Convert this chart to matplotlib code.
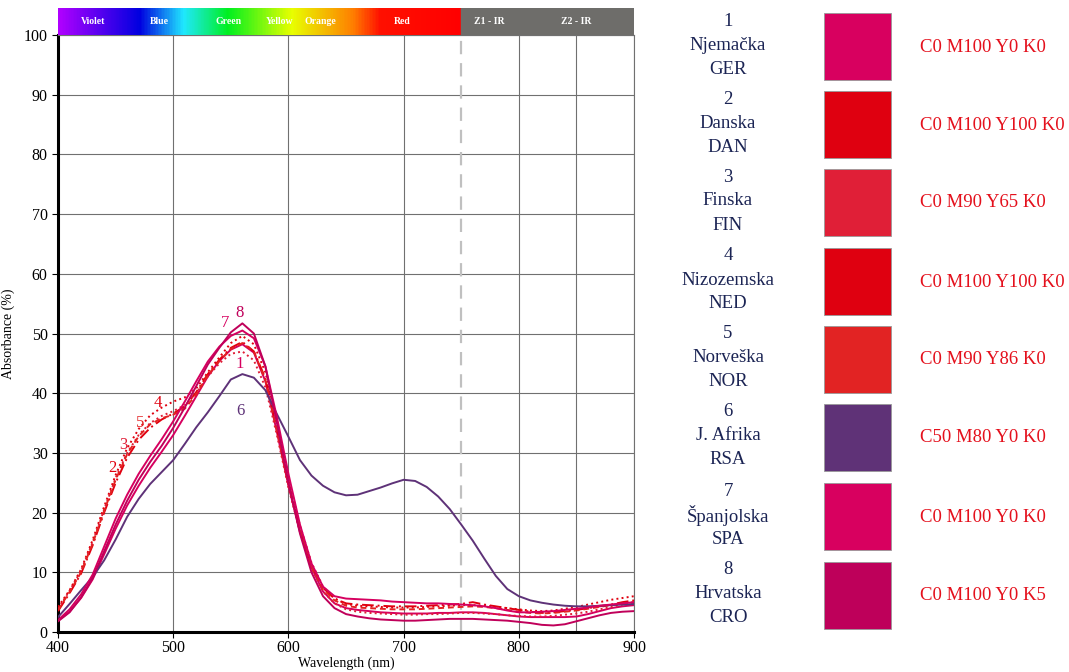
import numpy as np
import matplotlib
matplotlib.use('Agg')
import matplotlib.pyplot as plt
from matplotlib.colors import LinearSegmentedColormap
from matplotlib.patches import Rectangle

plt.rcParams['font.family'] = ['Liberation Serif', 'DejaVu Serif']

# wavelength grid (nm)
wl = list(range(400, 901, 10))

ger = [1.9, 3.4, 5.7, 8.8, 13.0, 17.3, 21.2, 24.5, 27.5, 30.2, 33.0, 36.2, 39.5, 42.8, 45.4, 47.3, 48.2,
       46.8, 42.0, 33.5, 24.5, 16.8, 10.8, 6.8, 4.8, 4.0, 3.7, 3.5, 3.3, 3.2, 3.1, 3.1, 3.1, 3.2, 3.2,
       3.3, 3.3, 3.2, 3.0, 2.8, 2.6, 2.5, 2.5, 2.5, 2.5, 2.6, 3.0, 3.5, 4.0, 4.3, 4.5]
dan = [3.5, 6.5, 9.8, 14.5, 20.0, 25.0, 29.2, 32.2, 34.2, 35.6, 36.6, 37.8, 40.2, 43.2, 45.6, 47.6, 48.6,
       47.0, 42.5, 34.0, 25.0, 17.2, 11.2, 7.4, 5.6, 4.8, 4.6, 4.5, 4.4, 4.3, 4.3, 4.3, 4.4, 4.5, 4.6,
       4.7, 5.0, 4.6, 4.3, 4.0, 3.7, 3.4, 3.2, 3.3, 3.5, 3.7, 4.0, 4.3, 4.6, 5.0, 5.3]
fin = [3.9, 6.9, 10.3, 15.0, 20.5, 25.8, 30.0, 33.0, 35.0, 36.2, 37.0, 38.0, 40.0, 42.8, 45.0, 46.6, 47.0,
       45.5, 41.0, 33.0, 24.2, 16.8, 10.8, 6.8, 4.8, 3.8, 3.4, 3.2, 3.1, 3.0, 2.9, 2.9, 3.0, 3.0, 3.1,
       3.2, 3.2, 3.1, 3.0, 2.8, 2.7, 2.6, 2.6, 2.7, 2.9, 3.1, 3.4, 3.8, 4.2, 4.6, 5.0]
ned = [4.2, 7.0, 10.5, 15.4, 21.0, 26.3, 30.8, 34.0, 36.3, 37.6, 38.6, 39.3, 40.8, 43.5, 46.0, 48.4, 49.6,
       48.2, 43.5, 35.0, 25.8, 17.8, 11.6, 7.6, 5.6, 4.7, 4.4, 4.3, 4.2, 4.1, 4.1, 4.1, 4.2, 4.3, 4.4,
       4.5, 4.5, 4.4, 4.2, 4.0, 3.8, 3.6, 3.5, 3.6, 3.9, 4.2, 4.6, 5.0, 5.4, 5.7, 6.0]
nor = [3.7, 6.7, 10.0, 14.8, 20.3, 25.5, 29.8, 32.8, 34.8, 35.8, 36.4, 37.4, 39.8, 43.0, 45.4, 47.4, 48.4,
       47.0, 42.2, 33.8, 24.8, 17.0, 11.0, 7.2, 5.3, 4.4, 4.1, 4.0, 3.9, 3.8, 3.8, 3.8, 3.9, 4.0, 4.1,
       4.2, 4.3, 4.2, 4.0, 3.7, 3.4, 3.2, 3.1, 3.2, 3.4, 3.6, 3.9, 4.2, 4.5, 4.8, 5.0]
rsa = [2.5, 4.7, 7.0, 9.2, 12.0, 15.5, 19.3, 22.3, 24.8, 26.8, 28.8, 31.5, 34.3, 36.8, 39.5, 42.3, 43.2,
       42.6, 40.5, 36.5, 32.7, 28.8, 26.2, 24.5, 23.4, 22.9, 23.0, 23.6, 24.2, 24.9, 25.5, 25.3, 24.3, 22.7, 20.6,
       18.0, 15.3, 12.3, 9.4, 7.2, 6.0, 5.3, 4.9, 4.6, 4.4, 4.3, 4.3, 4.4, 4.5, 4.6, 4.7]
spa = [2.0, 3.8, 6.3, 9.6, 14.3, 19.0, 23.0, 26.5, 29.5, 32.3, 35.3, 38.6, 42.0, 45.3, 47.8, 49.6, 50.5,
       49.2, 44.5, 36.0, 26.5, 18.0, 11.5, 7.6, 6.0, 5.6, 5.5, 5.4, 5.3, 5.1, 5.0, 4.9, 4.8, 4.8, 4.7,
       4.6, 4.5, 4.3, 4.0, 3.6, 3.3, 3.3, 3.4, 3.5, 3.7, 3.9, 4.1, 4.4, 4.6, 4.8, 5.0]
cro = [1.8, 3.3, 5.8, 9.0, 13.5, 18.0, 22.0, 25.5, 28.5, 31.2, 34.2, 37.6, 41.2, 44.8, 47.6, 50.2, 51.7,
       50.0, 44.5, 35.0, 25.0, 16.5, 10.0, 6.0, 4.0, 3.0, 2.6, 2.3, 2.1, 2.0, 1.9, 1.9, 2.0, 2.1, 2.2,
       2.2, 2.2, 2.1, 2.0, 1.9, 1.7, 1.5, 1.2, 1.1, 1.3, 1.8, 2.3, 2.8, 3.2, 3.4, 3.5]

numbers = ['1', '2', '3', '4', '5', '6', '7', '8']
names = ['Njemačka', 'Danska', 'Finska', 'Nizozemska', 'Norveška', 'J. Afrika', 'Španjolska', 'Hrvatska']
codes = ['GER', 'DAN', 'FIN', 'NED', 'NOR', 'RSA', 'SPA', 'CRO']
cmyk = ['C0 M100 Y0 K0', 'C0 M100 Y100 K0', 'C0 M90 Y65 K0', 'C0 M100 Y100 K0',
        'C0 M90 Y86 K0', 'C50 M80 Y0 K0', 'C0 M100 Y0 K0', 'C0 M100 Y0 K5']
series = [ger, dan, fin, ned, nor, rsa, spa, cro]

# curve label positions (wavelength, absorbance)
label_pos = [(558, 44.9), (447.5, 27.5), (457, 31.3), (487, 38.4), (471, 35.0),
             (558, 37.0), (545, 51.8), (558, 53.4)]

# spectrum bar labels
band_names = ['Violet', 'Blue', 'Green', 'Yellow', 'Orange', 'Red', 'Z1 - IR', 'Z2 - IR']
band_pos = [430, 488, 548, 592, 628, 699, 774, 850]

swatch = ['#d8005f', '#df0010', '#e01f37', '#df0010', '#e22323', '#5f3277', '#d8005f', '#be005a']
line_col = ['#d6005f', '#e0000f', '#e01e37', '#e0000f', '#e32222', '#5e3278', '#d6005f', '#c0005a']
styles = ['-', (0, (6, 2, 1, 2)), ':', ':', (0, (3, 2)), '-', '-', '-']

fig = plt.figure(figsize=(10.69, 6.72), dpi=100)
ax = fig.add_axes([0.0543, 0.0595, 0.5388, 0.8884])

ax.set_xlim(400, 900)
ax.set_ylim(0, 100)
ax.set_xticks(range(400, 901, 100))
ax.set_yticks(range(0, 101, 10))
ax.grid(True, color='#707070', linewidth=0.8)
ax.axvline(850, color='#707070', linewidth=0.8)
ax.axvline(750, color='#c0c0c0', linewidth=1.6, linestyle=(0, (6, 4)))
ax.set_axisbelow(True)

for i in range(8):
    ax.plot(wl, series[i], color=line_col[i], linestyle=styles[i], linewidth=1.4, zorder=3)
    ax.text(label_pos[i][0], label_pos[i][1], numbers[i], color=line_col[i], fontsize=12,
            ha='center', va='center', zorder=4)

for s in ['left', 'bottom']:
    ax.spines[s].set_linewidth(2.2)
for s in ['top', 'right']:
    ax.spines[s].set_color('#707070')
    ax.spines[s].set_linewidth(0.8)
ax.tick_params(labelsize=11.5, length=4, width=0.8)
ax.tick_params(axis='x', pad=2)
ax.set_xlabel('Wavelength (nm)', fontsize=10, labelpad=0)
ax.set_ylabel('Absorbance (%)', fontsize=10, labelpad=6)

# spectrum bar above the plot
bar = fig.add_axes([0.0543, 0.9479, 0.5388, 0.0402])
cmap = LinearSegmentedColormap.from_list('spec', [
    (0.0, '#b000ff'), (0.2, '#0000e0'), (0.31, '#20e8ff'), (0.42, '#00f020'),
    (0.58, '#e8ff00'), (0.73, '#ff8000'), (0.8, '#ff1000'), (1.0, '#ff0000')])
grad = np.linspace(0, 1, 400).reshape(1, -1)
bar.imshow(grad, aspect='auto', cmap=cmap, extent=(400, 750, 0, 1))
bar.add_patch(Rectangle((750, 0), 150, 1, color='#6e6d6a'))
bar.set_xlim(400, 900)
bar.set_ylim(0, 1)
bar.axis('off')
for name, p in zip(band_names, band_pos):
    bar.text(p, 0.5, name, color='white', fontsize=7, fontweight='bold', ha='center', va='center')

# legend panel on the right
W, H = 1069.0, 672.0
tops = [13, 91, 169, 248, 326, 404, 483, 562]
for i in range(8):
    t = tops[i]
    fig.patches.append(Rectangle((824 / W, 1 - (t + 67) / H), 67 / W, 67 / H,
                                 transform=fig.transFigure, facecolor=swatch[i],
                                 edgecolor='#999999', linewidth=0.6))
    for k, txt in enumerate([numbers[i], names[i], codes[i]]):
        fig.text(728 / W, 1 - (t + 8 + 24 * k) / H, txt, color='#1b2454', fontsize=13.5,
                 ha='center', va='center')
    fig.text(920 / W, 1 - (t + 34) / H, cmyk[i], color='#e4101c', fontsize=13.5,
             ha='left', va='center')

fig.savefig('out.png', dpi=100)
